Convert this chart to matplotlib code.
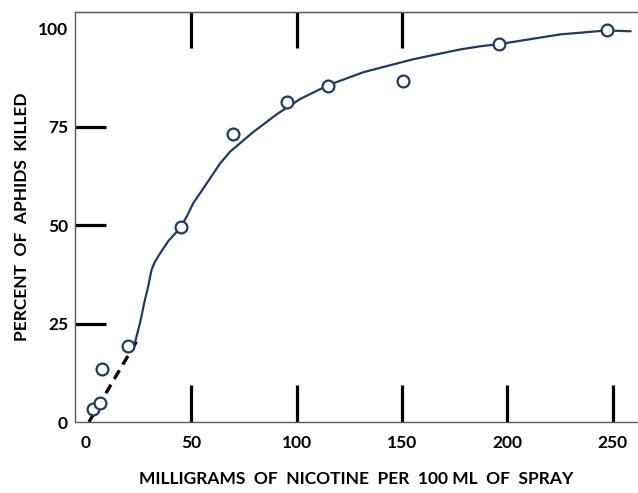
import matplotlib
matplotlib.use("Agg")
import matplotlib.pyplot as plt

# observed kill rates (mg nicotine per 100 ml, percent killed)
dose = [3.2, 6.7, 7.6, 20.0, 45.2, 69.9, 95.5, 115.0, 150.7, 195.8, 247.1]
killed = [3.3, 4.8, 13.4, 19.2, 49.5, 73.2, 81.3, 85.4, 86.6, 96.0, 99.7]

# hand-drawn fitted curve
curve_x = [23.3, 25.7, 27.7, 29.6, 30.4, 31.2, 32.6, 34.4, 39.1, 44.7, 47.9, 50.9,
           58.9, 63.5, 68.4, 79.4, 90.8, 101.7, 115.0, 131.7, 155.4, 177.8, 187.3,
           195.8, 225.0, 247.0, 258.5]
curve_y = [20.3, 25.3, 30.4, 34.6, 36.9, 38.8, 40.6, 42.2, 46.0, 49.3, 52.3, 55.6,
           61.9, 65.6, 68.7, 73.7, 78.3, 82.1, 85.6, 88.9, 92.2, 94.7, 95.5,
           96.0, 98.5, 99.5, 99.3]

# dashed extrapolation toward zero
dash_x = [1.4, 24.2]
dash_y = [0.0, 20.7]

x_ticks = [0, 50, 100, 150, 200, 250]
top_ticks = [50, 100, 150]
y_ticks = [0, 25, 50, 75, 100]

navy = "#23395d"
spine_col = "#595959"
font = "Lato"

fig = plt.figure(figsize=(6.38, 4.93), dpi=100)
ax = fig.add_axes([0.1176, 0.144, 0.8824, 0.8317])

ax.plot(dash_x, dash_y, ls=(0, (3, 2)), color="black", lw=2.4)
ax.plot(curve_x, curve_y, color=navy, lw=1.6, solid_capstyle="round",
        solid_joinstyle="round")
ax.plot(dose, killed, ls="none", marker="o", ms=8.5, mfc="white", mec=navy, mew=1.6)

ax.set_xlim(-5.2, 262)
ax.set_ylim(0, 104.2)

for side in ["left", "top", "bottom"]:
    ax.spines[side].set_color(spine_col)
    ax.spines[side].set_linewidth(1.0)
ax.spines["right"].set_visible(False)

ax.set_xticks(x_ticks)
ax.set_yticks(y_ticks)
ax.tick_params(axis="x", direction="in", length=27, width=2.3, color="black", pad=9)
ax.tick_params(axis="y", direction="in", length=22.5, width=2.3, color="black", pad=5)
# no tick line at 0 on x, none at 0 and 100 on y
ax.xaxis.get_major_ticks()[0].tick1line.set_visible(False)
ax.yaxis.get_major_ticks()[0].tick1line.set_visible(False)
ax.yaxis.get_major_ticks()[-1].tick1line.set_visible(False)

for lab in ax.get_xticklabels() + ax.get_yticklabels():
    lab.set_fontfamily(font)
    lab.set_fontweight("bold")
    lab.set_fontsize(12.5)

top = ax.secondary_xaxis("top")
top.set_xticks(top_ticks)
top.set_xticklabels([])
top.tick_params(direction="in", length=26, width=2.3, color="black")
top.spines["top"].set_color(spine_col)

ax.set_xlabel("MILLIGRAMS  OF  NICOTINE  PER  100 ML  OF  SPRAY",
              fontfamily=font, fontweight="bold", fontsize=12.5, labelpad=15)
ax.set_ylabel("PERCENT  OF  APHIDS  KILLED",
              fontfamily=font, fontweight="bold", fontsize=12.5, labelpad=6)

fig.savefig("out.png", dpi=100)
